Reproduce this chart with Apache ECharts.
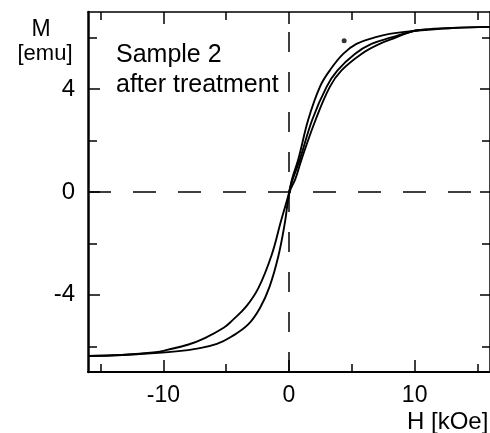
<!DOCTYPE html>
<html>
<head>
<meta charset="utf-8">
<script src="https://cdn.jsdelivr.net/npm/echarts@6/dist/echarts.min.js"></script>
<style>
html,body{margin:0;padding:0;background:#fff;}
#chart{width:490px;height:433px;}
</style>
</head>
<body>
<div id="chart"></div>
<script>
// ---- data ----
// descending branch (from +saturation to -saturation)
const descH = [16, 13, 10.0, 8.0, 6.83, 5.37, 4.31, 3.25, 2.46, 1.53, 0.74, 0.24, 0.02, -0.66, -1.38, -2.43, -3.4, -4.55, -5.2, -6.7, -8.0, -9.7, -10.6, -13.3, -16];
const descM = [6.42, 6.38, 6.27, 6.15, 6.01, 5.76, 5.37, 4.73, 4.09, 2.81, 1.27, 0.5, 0, -1.17, -2.45, -3.73, -4.45, -5.01, -5.28, -5.68, -5.93, -6.14, -6.23, -6.34, -6.38];
// ascending branch (from -saturation to +saturation)
const ascH = [-16, -13.3, -11.0, -9.0, -7.2, -5.74, -4.6, -3.25, -2.3, -1.56, -0.85, -0.32, 0.05, 0.5, 1.0, 2.12, 3.25, 4.18, 5.77, 7.22, 8.54, 10.0, 13, 16];
const ascM = [-6.38, -6.34, -6.27, -6.2, -6.08, -5.91, -5.63, -5.15, -4.5, -3.7, -2.5, -1.17, 0, 0.5, 1.27, 2.81, 4.09, 4.73, 5.37, 5.76, 6.01, 6.27, 6.38, 6.42];
// initial magnetization curve
const virginH = [0, 0.3, 0.87, 1.85, 2.99, 3.86, 5.24, 6.56, 8.15, 10.0, 11.0];
const virginM = [0, 0.5, 1.27, 2.81, 4.09, 4.73, 5.37, 5.76, 6.01, 6.27, 6.32];
// isolated dot
const dotH = [4.39];
const dotM = [5.88];
// axes
const hRange = [-16, 16];
const mRange = [-7, 7];
const hTicksMajor = [-10, 0, 10];
const hTicksMinor = [-15, -5, 5, 15];
const mTicksMajor = [-4, 0, 4];
const mTicksMinor = [-6, -2, 2, 6];
// texts
const xTitle = 'H [kOe]';
const yTitle1 = 'M';
const yTitle2 = '[emu]';
const note1 = 'Sample 2';
const note2 = 'after treatment';

const FONT = '"Liberation Sans", Arial, Helvetica, sans-serif';
const zip = (a, b) => a.map((v, i) => [v, b[i]]);

function xAx(pos, ticks, len, showLine, labels, lw) {
  return {
    type: 'value', position: pos, min: hRange[0], max: hRange[1], gridIndex: 0,
    axisLine: { show: showLine, onZero: false, lineStyle: { color: '#000', width: lw } },
    axisTick: { show: true, inside: true, length: len, customValues: ticks, lineStyle: { color: '#000', width: 1.5 } },
    axisLabel: labels ? { show: true, customValues: labels, color: '#000', fontSize: 23, fontFamily: FONT, margin: 12 } : { show: false },
    splitLine: { show: false }
  };
}
function yAx(pos, ticks, len, showLine, labels, lw) {
  return {
    type: 'value', position: pos, min: mRange[0], max: mRange[1], gridIndex: 0,
    axisLine: { show: showLine, onZero: false, lineStyle: { color: '#000', width: lw } },
    axisTick: { show: true, inside: true, length: len, customValues: ticks, lineStyle: { color: '#000', width: 1.5 } },
    axisLabel: labels ? { show: true, customValues: labels, color: '#000', fontSize: 24, fontFamily: FONT, margin: 13 } : { show: false },
    splitLine: { show: false }
  };
}

const chart = echarts.init(document.getElementById('chart'), null, { renderer: 'canvas' });
const lineStyle = { color: '#000', width: 1.9 };
chart.setOption({
  animation: false,
  backgroundColor: '#fff',
  grid: { left: 88, top: 12, width: 403, height: 360, containLabel: false },
  xAxis: [
    xAx('bottom', hTicksMajor, 12, true, hTicksMajor, 2),
    xAx('bottom', hTicksMinor, 8, false, null, 1),
    xAx('top', hTicksMajor, 12, true, null, 1.5),
    xAx('top', hTicksMinor, 8, false, null, 1)
  ],
  yAxis: [
    yAx('left', mTicksMajor, 12, true, mTicksMajor, 2.5),
    yAx('left', mTicksMinor, 9, false, null, 1),
    yAx('right', mTicksMajor, 10, true, null, 1.5),
    yAx('right', mTicksMinor, 8, false, null, 1)
  ],
  series: [
    { type: 'line', data: [[hRange[0], 0], [hRange[1], 0]], symbol: 'none', silent: true,
      lineStyle: { color: '#000', width: 1.5, type: [23, 22] } },
    { type: 'line', data: [[0, mRange[0]], [0, mRange[1]]], symbol: 'none', silent: true,
      lineStyle: { color: '#000', width: 1.5, type: [20, 20] } },
    { type: 'line', data: zip(descH, descM), symbol: 'none', smooth: 0.4, lineStyle },
    { type: 'line', data: zip(ascH, ascM), symbol: 'none', smooth: 0.4, lineStyle },
    { type: 'line', data: zip(virginH, virginM), symbol: 'none', smooth: 0.4, lineStyle },
    { type: 'scatter', data: zip(dotH, dotM), symbolSize: 5, itemStyle: { color: '#000' } }
  ],
  graphic: [
    { type: 'text', x: 41, y: 18, style: { text: yTitle1, fontSize: 23, fontFamily: FONT, fill: '#000', align: 'center', verticalAlign: 'top' } },
    { type: 'text', x: 45, y: 43, style: { text: yTitle2, fontSize: 22, fontFamily: FONT, fill: '#000', align: 'center', verticalAlign: 'top' } },
    { type: 'text', x: 116, y: 43, style: { text: note1, fontSize: 25, fontFamily: FONT, fill: '#000', align: 'left', verticalAlign: 'top' } },
    { type: 'text', x: 116, y: 73, style: { text: note2, fontSize: 25, fontFamily: FONT, fill: '#000', align: 'left', verticalAlign: 'top' } },
    { type: 'text', x: 407, y: 410, style: { text: xTitle, fontSize: 24, fontFamily: FONT, fill: '#000', align: 'left', verticalAlign: 'top' } }
  ]
});
</script>
</body>
</html>
